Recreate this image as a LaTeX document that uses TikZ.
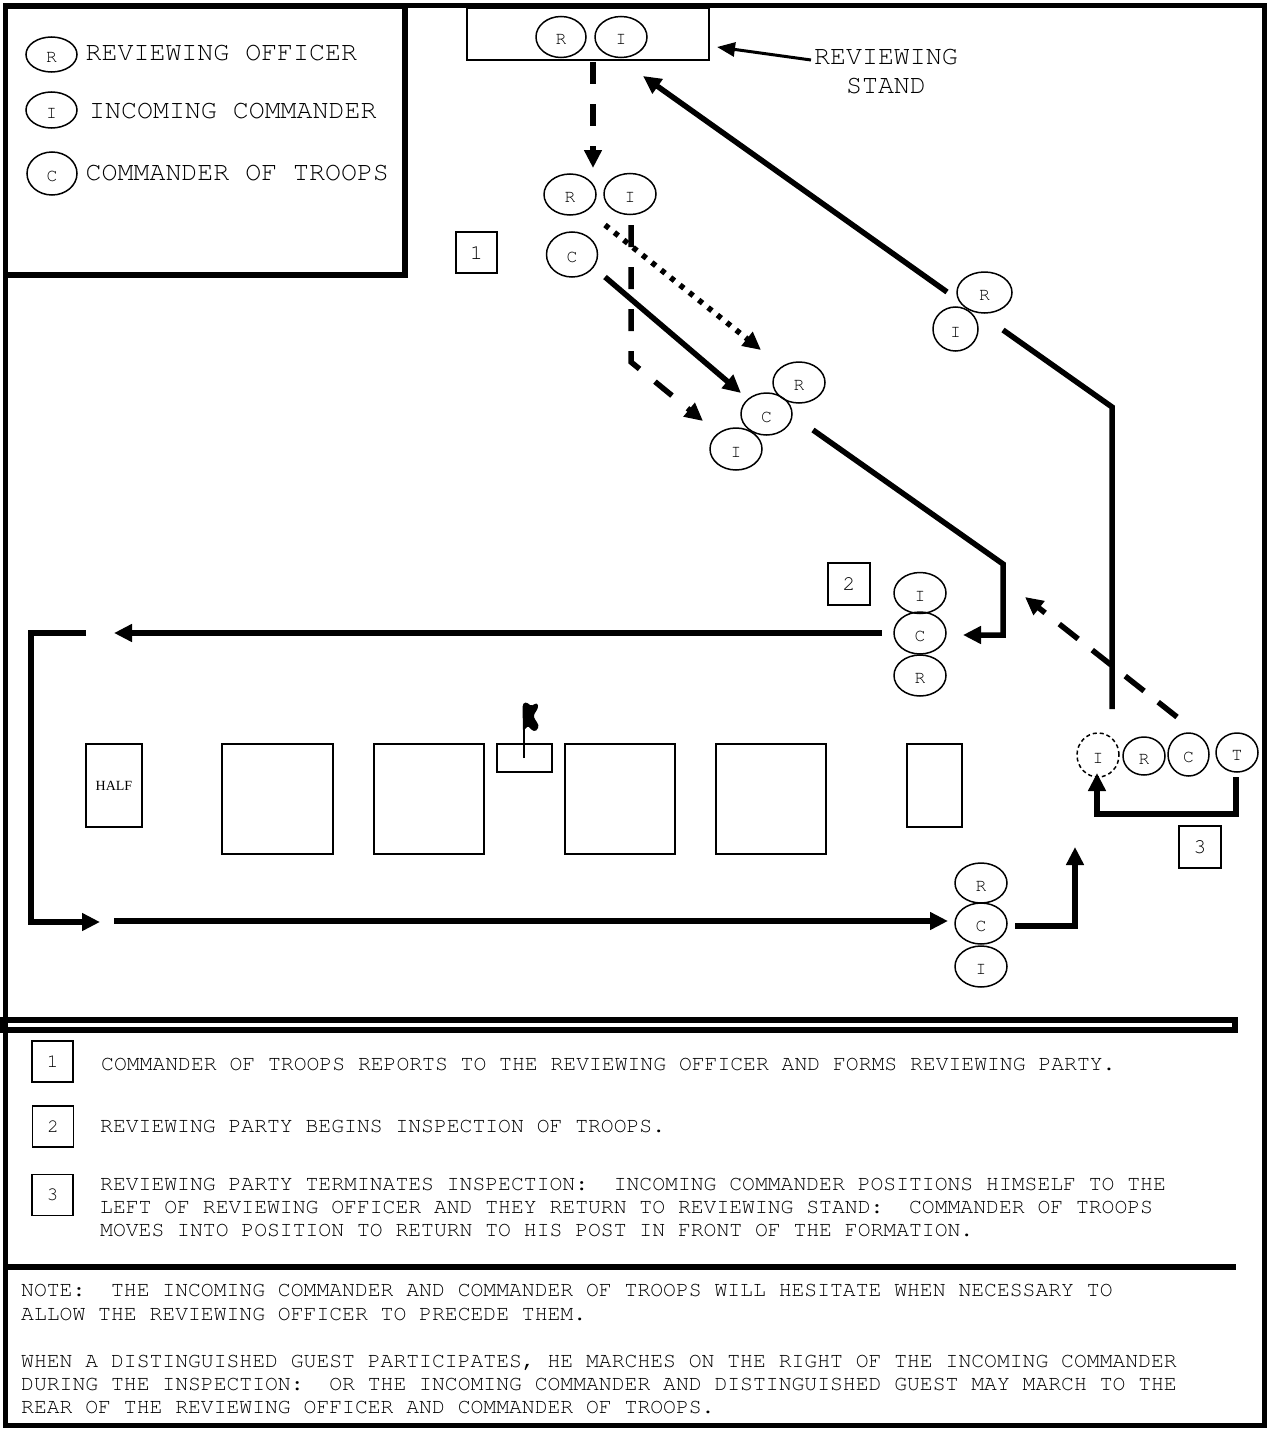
\documentclass[tikz,border=0pt]{standalone}
\usepackage[T1]{fontenc}
\usepackage{fontspec}
\newfontfamily\halffont{Liberation Serif}
\newcommand\courfam{\fontencoding{T1}\fontfamily{pcr}\fontseries{m}\fontshape{n}\selectfont}
\usetikzlibrary{arrows.meta,shapes.geometric}
\begin{document}
\begin{tikzpicture}[x=1pt,y=-1pt,
  pers/.style={ellipse,draw,line width=1.5pt,inner sep=0pt,minimum width=52pt,minimum height=41pt,
    font=\courfam\fontsize{18}{18}\selectfont,text height=16pt,text depth=0pt},
  sz/.style 2 args={minimum width=#1pt,minimum height=#2pt},
  numbox/.style={draw,line width=1.5pt,minimum width=41pt,minimum height=41pt,inner sep=0pt,
    font=\courfam\fontsize{21}{21}\selectfont},
  notebox/.style={numbox,font=\courfam\fontsize{19}{19}\selectfont},
  troop/.style={draw,line width=1.5pt,inner sep=0pt},
  walk/.style={line width=5.5pt},
  arr/.style={-{Triangle[length=18pt,width=17pt]}},
  dashwalk/.style={walk,dash pattern=on 22pt off 20pt},
  dotwalk/.style={walk,dash pattern=on 5pt off 7pt},
  txt/.style={font=\courfam\fontsize{21.4}{23}\selectfont,anchor=base west,inner sep=0pt},
  leg/.style={font=\courfam\fontsize{26.6}{30}\selectfont,anchor=base west,inner sep=0pt},
  legc/.style={leg,anchor=base},
]
\useasboundingbox (0,0) rectangle (1268,1429);

% frames
\draw[line width=5pt] (5.5,6) rectangle (1264.5,1425);
\draw[line width=5.5pt] (5.5,6) rectangle (405,275);
\draw[line width=6pt] (3,1020) rectangle (1235,1030);
\draw[line width=6pt] (5,1267) -- (1236,1267);

% legend
\node[pers,sz={51}{35}] (LR) at (51.5,54.5) {R};
\node[pers,sz={51}{36}] (LI) at (51.5,110) {I};
\node[pers,sz={50}{43}] (LC) at (52,173.5) {C};
\node[leg] (LRt) at (85.5,60) {REVIEWING OFFICER};
\node[leg] (LIt) at (89,118) {INCOMING COMMANDER};
\node[leg] (LCt) at (85.5,180) {COMMANDER OF TROOPS};

% reviewing stand
\node[draw,line width=1.8pt,minimum width=242pt,minimum height=52pt,inner sep=0pt] (stand) at (588,34) {};
\node[pers,sz={50}{41}] (SR) at (561,37) {R};
\node[pers,sz={52}{41}] (SI) at (621,37) {I};
\node[legc] (rv1) at (886,64) {REVIEWING};
\node[legc] (rv2) at (886,93) {STAND};
\coordinate (a1) at (811,60);
\coordinate (a2) at (717,47);
\draw[line width=3pt,-{Triangle[length=18pt,width=14pt]}] (a1) -- (a2);

% group 1
\node[pers,sz={52}{41}] (G1R) at (570,194.5) {R};
\node[pers,sz={52}{41}] (G1I) at (630,194) {I};
\node[pers,sz={51}{45}] (G1C) at (572,254.5) {C};
\node[numbox] (n1) at (476.5,252.5) {1};

% group 1b
\node[pers,sz={52}{41}] (G2R) at (799,382.5) {R};
\node[pers,sz={51}{42}] (G2C) at (766.5,414) {C};
\node[pers,sz={52}{42}] (G2I) at (736,449) {I};

% top right group
\node[pers,sz={55}{41}] (G4R) at (984.5,292.5) {R};
\node[pers,sz={45}{44}] (G4I) at (955.5,329) {I};

% group 2
\node[numbox,sz={42}{42}] (n2) at (849,584) {2};
\node[pers,sz={52}{41}] (G3I) at (920,593) {I};
\node[pers,sz={52}{42}] (G3C) at (920,633) {C};
\node[pers,sz={52}{41}] (G3R) at (920,675.5) {R};

% group 3 (right)
\node[pers,sz={42}{44},dash pattern=on 4pt off 3pt] (G5I) at (1098,755) {I};
\node[pers,sz={42}{38}] (G5R) at (1144,756) {R};
\node[pers,sz={41}{43}] (G5C) at (1188.5,754.5) {C};
\node[pers,sz={42}{39}] (G5T) at (1237,752.5) {T};
\node[numbox,sz={42}{42}] (n3) at (1200,847) {3};

% bottom group
\node[pers,sz={52}{40}] (G6R) at (981,883) {R};
\node[pers,sz={52}{41}] (G6C) at (981,923.5) {C};
\node[pers,sz={52}{41}] (G6I) at (981,966.5) {I};

% troops
\node[troop,minimum width=56pt,minimum height=83pt,font=\halffont\fontsize{14}{14}\selectfont] (half) at (114,785.5) {HALF};
\node[troop,minimum width=111pt,minimum height=110pt] (tb1) at (277.5,799) {};
\node[troop,minimum width=110pt,minimum height=110pt] (tb2) at (429,799) {};
\node[troop,minimum width=55pt,minimum height=28pt] (flagbox) at (524.5,758) {};
\node[troop,minimum width=110pt,minimum height=110pt] (tb3) at (620,799) {};
\node[troop,minimum width=110pt,minimum height=110pt] (tb4) at (771,799) {};
\node[troop,minimum width=55pt,minimum height=83pt] (tb5) at (934.5,785.5) {};

% flag
\draw[line width=1.5pt] (524,758) -- (524,706);
\fill (522.5,707) .. controls (523,701) and (527,702) .. (530,705)
  .. controls (533,707) and (536,701) .. (538,705)
  .. controls (539,710) and (533,713) .. (534,717)
  .. controls (535,721) and (540,724) .. (538,728)
  .. controls (536,733) and (532,731) .. (529,727)
  .. controls (527,725) and (525,731) .. (523,730) -- cycle;

% connectors
\coordinate (s1) at (593,62);   \coordinate (s2) at (593,168);
\draw[dashwalk,arr] (s1) -- (s2);

\coordinate (d1) at (605,225);  \coordinate (d2) at (761,350);
\draw[dotwalk,arr] (d1) -- (d2);

\coordinate (i1) at (631,225);  \coordinate (i2) at (631,362);  \coordinate (i3) at (703,421);
\draw[dashwalk,arr] (i1) -- (i2) -- (i3);

\coordinate (c1) at (605,277);  \coordinate (c2) at (741,393);
\draw[walk,arr] (c1) -- (c2);

\coordinate (c3) at (813,430);  \coordinate (c4) at (1003,564);
\coordinate (c5) at (1003,635); \coordinate (c6) at (963,635);
\draw[walk,arr] (c3) -- (c4) -- (c5) -- (c6);

\coordinate (l1) at (882,633);  \coordinate (l2) at (114,633);
\draw[walk,arr] (l1) -- (l2);

\coordinate (b1) at (86,633);   \coordinate (b2) at (31,633);
\coordinate (b3) at (31,922);   \coordinate (b4) at (100,922);
\draw[walk,arr] (b1) -- (b2) -- (b3) -- (b4);

\coordinate (m1) at (114,921);  \coordinate (m2) at (948,921);
\draw[walk,arr] (m1) -- (m2);

\coordinate (e1) at (1015,926); \coordinate (e2) at (1075,926); \coordinate (e3) at (1075,847);
\draw[walk,arr] (e1) -- (e2) -- (e3);

\coordinate (t1) at (1236,777); \coordinate (t2) at (1236,814);
\coordinate (t3) at (1097,814); \coordinate (t4) at (1097,773);
\draw[walk,arr] (t1) -- (t2) -- (t3) -- (t4);

\coordinate (r1) at (1177,717); \coordinate (r2) at (1025,597);
\draw[walk,dash pattern=on 24pt off 18pt,arr] (r1) -- (r2);

\coordinate (u1) at (1112,709); \coordinate (u2) at (1112,407); \coordinate (u3) at (1003,330);
\draw[walk] (u1) -- (u2) -- (u3);
\coordinate (u4) at (947,292);  \coordinate (u5) at (643,76);
\draw[walk,arr] (u4) -- (u5);

% explanation
\node[notebox] (k1) at (52.5,1061.5) {1};
\node[notebox] (k2) at (53,1126.5) {2};
\node[notebox] (k3) at (52.5,1195) {3};
\node[txt] (x1) at (101,1070) {COMMANDER OF TROOPS REPORTS TO THE REVIEWING OFFICER AND FORMS REVIEWING PARTY.};
\node[txt] (x2) at (100,1132) {REVIEWING PARTY BEGINS INSPECTION OF TROOPS.};
\node[txt] (x3a) at (100,1190) {REVIEWING PARTY TERMINATES INSPECTION:\ \ INCOMING COMMANDER POSITIONS HIMSELF TO THE};
\node[txt] (x3b) at (100,1213) {LEFT OF REVIEWING OFFICER AND THEY RETURN TO REVIEWING STAND:\ \ COMMANDER OF TROOPS};
\node[txt] (x3c) at (100,1236) {MOVES INTO POSITION TO RETURN TO HIS POST IN FRONT OF THE FORMATION.};
\node[txt] (y1) at (21,1296) {NOTE:\ \ THE INCOMING COMMANDER AND COMMANDER OF TROOPS WILL HESITATE WHEN NECESSARY TO};
\node[txt] (y2) at (21,1320) {ALLOW THE REVIEWING OFFICER TO PRECEDE THEM.};
\node[txt] (y3) at (21,1367) {WHEN A DISTINGUISHED GUEST PARTICIPATES, HE MARCHES ON THE RIGHT OF THE INCOMING COMMANDER};
\node[txt] (y4) at (21,1390) {DURING THE INSPECTION:\ \ OR THE INCOMING COMMANDER AND DISTINGUISHED GUEST MAY MARCH TO THE};
\node[txt] (y5) at (21,1413) {REAR OF THE REVIEWING OFFICER AND COMMANDER OF TROOPS.};
\end{tikzpicture}
\end{document}
